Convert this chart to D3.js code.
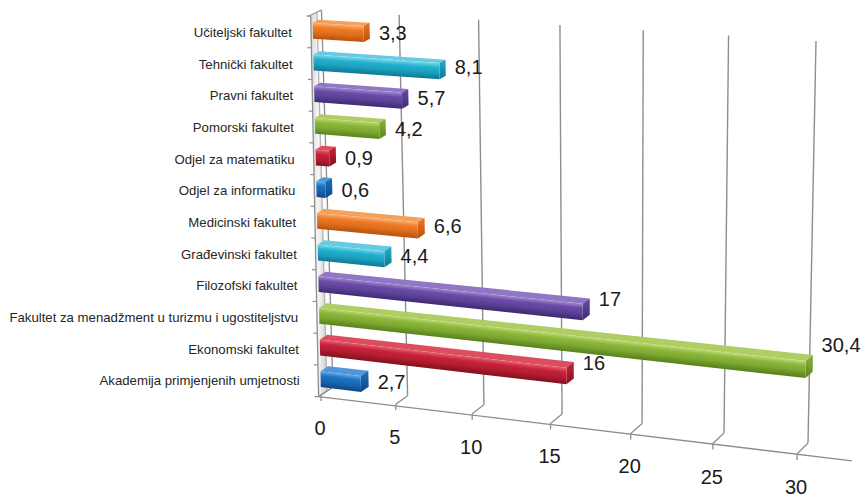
<!DOCTYPE html>
<html>
<head>
<meta charset="utf-8">
<script src="https://cdn.jsdelivr.net/npm/d3@7"></script>
<style>
  body { margin: 0; background: #ffffff; }
  svg { display: block; }
</style>
</head>
<body>
<svg id="chart" width="865" height="497"></svg>
<script>
// Faculties, listed top to bottom as they appear on the category axis
const categories = [
  "Učiteljski fakultet",
  "Tehnički fakultet",
  "Pravni fakultet",
  "Pomorski fakultet",
  "Odjel za matematiku",
  "Odjel za informatiku",
  "Medicinski fakultet",
  "Građevinski fakultet",
  "Filozofski fakultet",
  "Fakultet za menadžment u turizmu i ugostiteljstvu",
  "Ekonomski fakultet",
  "Akademija primjenjenih umjetnosti"
];
const values = [3.3, 8.1, 5.7, 4.2, 0.9, 0.6, 6.6, 4.4, 17, 30.4, 16, 2.7];
const tickValues = [0, 5, 10, 15, 20, 25, 30];

// Bar colours (light top edge, body, dark underside), cycling per faculty
const palette = {
  orange: { light: "#f8b070", base: "#f07a26", dark: "#b8520c" },
  cyan:   { light: "#7fd6ea", base: "#22b2d0", dark: "#0f7a94" },
  purple: { light: "#a088d0", base: "#6a4ca8", dark: "#3f2a72" },
  green:  { light: "#bcd874", base: "#8cb83a", dark: "#5a841c" },
  red:    { light: "#e4606e", base: "#c8223a", dark: "#86101f" },
  blue:   { light: "#64a6e4", base: "#1e72c4", dark: "#0c4686" }
};
const barColors = ["orange", "cyan", "purple", "green", "red", "blue",
                   "orange", "cyan", "purple", "green", "red", "blue"];

const svg = d3.select("#chart");
const defs = svg.append("defs");
const FONT = "'Liberation Sans', Arial, sans-serif";

// ---- 3D-ish projection --------------------------------------------------
// value axis -> fraction of the wall width, then a projective warp so the
// right side of the plot sits closer to the viewer
const xFrac = d3.scaleLinear().domain([0, 30]).range([0, 1]);
const K = -0.0688;
const warp = u => u * (1 + K) / (1 + K * u);

// category axis -> band coordinate 0 (floor) .. 12 (top of wall)
const band = d3.scaleBand().domain(categories).range([12, 0])
  .paddingInner(0.5).paddingOuter(0.25);

// corner points of the front plane (bar faces / floor edge) and back wall
const FRONT = { c00: [321, 395], c10: [797, 454], c01: [312.5, 15], c11: [806, 45] };
const BACK  = { c00: [333, 387], c10: [808, 443], c01: [321.5, 10], c11: [816, 41] };

const lerp = (a, b, t) => [a[0] + (b[0] - a[0]) * t, a[1] + (b[1] - a[1]) * t];
function onPlane(P, w, t) {
  return lerp(lerp(P.c00, P.c10, w), lerp(P.c01, P.c11, w), t);
}
// v: value, c: band coordinate, d: depth (0 = back wall, 1 = front)
function proj(v, c, d) {
  const w = warp(xFrac(v)), t = c / 12;
  return lerp(onPlane(BACK, w, t), onPlane(FRONT, w, t), d);
}
const poly = pts => "M" + pts.map(p => p[0].toFixed(2) + "," + p[1].toFixed(2)).join("L") + "Z";
const seg = (a, b) => "M" + a[0] + "," + a[1] + "L" + b[0] + "," + b[1];

// ---- walls and grid ------------------------------------------------------
const gridColor = "#8e8e8e";
const wallG = svg.append("g");

const outer = c => proj(0, c, 1.2);
const mid = c => proj(0, c, 0.5);
const inner = c => proj(0, c, 0);

const wg = defs.append("linearGradient").attr("id", "wallFill")
  .attr("x1", 0).attr("y1", 0).attr("x2", 1).attr("y2", 0);
wg.append("stop").attr("offset", 0).attr("stop-color", "#d6d6d6");
wg.append("stop").attr("offset", 0.45).attr("stop-color", "#f6f6f6");
wg.append("stop").attr("offset", 1).attr("stop-color", "#cfcfcf");

wallG.append("path")
  .attr("d", poly([outer(0), outer(12), mid(12), mid(0)]))
  .attr("fill", "url(#wallFill)");
wallG.append("path").attr("d", poly([mid(0), mid(12), inner(12), inner(0)]))
  .attr("fill", "#fbfbfb");

[outer, mid, inner].forEach((f, i) => {
  wallG.append("path").attr("d", seg(f(0), f(12)))
    .attr("stroke", i === 1 ? "#b4b4b4" : gridColor)
    .attr("stroke-width", 1.3).attr("fill", "none");
});
// wall cap and foot
const capL = outer(12);
wallG.append("path").attr("d", seg([capL[0] - 3, capL[1] + 0.5], inner(12)))
  .attr("stroke", gridColor).attr("stroke-width", 1.3);
wallG.append("path").attr("d", seg(outer(0), inner(0)))
  .attr("stroke", gridColor).attr("stroke-width", 1.3);

// category ticks on the wall edge
d3.range(0, 13).forEach(c => {
  const p = outer(c);
  wallG.append("path").attr("d", seg([p[0] - 4, p[1]], p))
    .attr("stroke", gridColor).attr("stroke-width", 1.2);
});

// value gridlines on the back wall, floor diagonals and ticks
tickValues.forEach(v => {
  const top = proj(v, 12, 0), bot = proj(v, 0, 0), fr = proj(v, 0, 1);
  if (v > 0) {
    wallG.append("path").attr("d", seg(bot, top))
      .attr("stroke", gridColor).attr("stroke-width", 1.4).attr("fill", "none");
  }
  wallG.append("path").attr("d", seg(bot, fr))
    .attr("stroke", gridColor).attr("stroke-width", 1.3);
  wallG.append("path").attr("d", seg(fr, [fr[0], fr[1] + 6]))
    .attr("stroke", gridColor).attr("stroke-width", 1.3);
});
// floor front edge
wallG.append("path").attr("d", seg(outer(0), proj(33.2, 0, 1)))
  .attr("stroke", gridColor).attr("stroke-width", 1.3);

// ---- bars ----------------------------------------------------------------
const barDepth = 0.35;   // depth of the back face of each bar
const barsG = svg.append("g");

function shadeGradient(id, from, to, stops) {
  const g = defs.append("linearGradient").attr("id", id)
    .attr("gradientUnits", "userSpaceOnUse")
    .attr("x1", from[0]).attr("y1", from[1])
    .attr("x2", to[0]).attr("y2", to[1]);
  stops.forEach(([o, c]) => g.append("stop").attr("offset", o).attr("stop-color", c));
}

categories.forEach((cat, i) => {
  const v = values[i];
  const col = palette[barColors[i]];
  const c0 = band(cat), c1 = c0 + band.bandwidth();
  const g = barsG.append("g");

  // front face gradient runs across the bar, perpendicular to its length
  const s = proj(0, (c0 + c1) / 2, 1), e = proj(v, (c0 + c1) / 2, 1);
  let dx = e[0] - s[0], dy = e[1] - s[1];
  const len = Math.hypot(dx, dy) || 1;
  dx /= len; dy /= len;
  const n = [-dy, dx];
  const topL = proj(0, c1, 1), botL = proj(0, c0, 1);
  const thick = (botL[0] - topL[0]) * n[0] + (botL[1] - topL[1]) * n[1];
  const midPt = proj(v / 2, c1, 1);
  shadeGradient("front" + i, midPt, [midPt[0] + n[0] * thick, midPt[1] + n[1] * thick], [
    [0, col.light],
    [0.28, col.base],
    [0.6, d3.interpolateRgb(col.base, col.dark)(0.3)],
    [1, col.dark]
  ]);
  shadeGradient("cap" + i, proj(v, c1, 1), proj(v, c0, 1), [
    [0, d3.interpolateRgb(col.base, col.dark)(0.25)],
    [1, col.dark]
  ]);

  // top face
  const topFill = d3.interpolateRgb(col.light, col.base)(0.3);
  g.append("path")
    .attr("d", poly([proj(0, c1, 1), proj(v, c1, 1), proj(v, c1, barDepth), proj(0, c1, barDepth)]))
    .attr("fill", topFill);

  // end cap
  g.append("path")
    .attr("d", poly([proj(v, c1, 1), proj(v, c1, barDepth), proj(v, c0, barDepth), proj(v, c0, 1)]))
    .attr("fill", "url(#cap" + i + ")");

  // front face
  g.append("path")
    .attr("d", poly([proj(0, c1, 1), proj(v, c1, 1), proj(v, c0, 1), proj(0, c0, 1)]))
    .attr("fill", "url(#front" + i + ")");
});

// ---- labels --------------------------------------------------------------
const fmt = v => String(v).replace(".", ",");

// value labels beside each bar end
categories.forEach((cat, i) => {
  const v = values[i];
  const cm = band(cat) + band.bandwidth() / 2;
  const endFront = proj(v, cm, 1), start = proj(0, cm, 1);
  const capEdge = proj(v, band(cat), barDepth);
  const yLab = endFront[1] - 0.45 * (endFront[1] - start[1]);
  svg.append("text")
    .attr("x", Math.max(capEdge[0], endFront[0]) + 9)
    .attr("y", yLab)
    .attr("dy", "0.35em")
    .attr("font-family", FONT).attr("font-size", 20)
    .attr("fill", "#1a1a1a")
    .text(fmt(v));
});

// category labels
categories.forEach(cat => {
  const p = proj(0, band(cat) + band.bandwidth() / 2, 1);
  svg.append("text")
    .attr("x", p[0] - 21).attr("y", p[1] + 1.5)
    .attr("dy", "0.35em").attr("text-anchor", "end")
    .attr("font-family", FONT).attr("font-size", 13.2)
    .attr("fill", "#262626")
    .text(cat);
});

// value axis tick labels under the floor edge
tickValues.forEach(v => {
  const p = proj(v, 0, 1);
  svg.append("text")
    .attr("x", p[0] - 1).attr("y", p[1] + 33)
    .attr("dy", "0.35em").attr("text-anchor", "middle")
    .attr("font-family", FONT).attr("font-size", 20)
    .attr("fill", "#1a1a1a")
    .text(v);
});
</script>
</body>
</html>
